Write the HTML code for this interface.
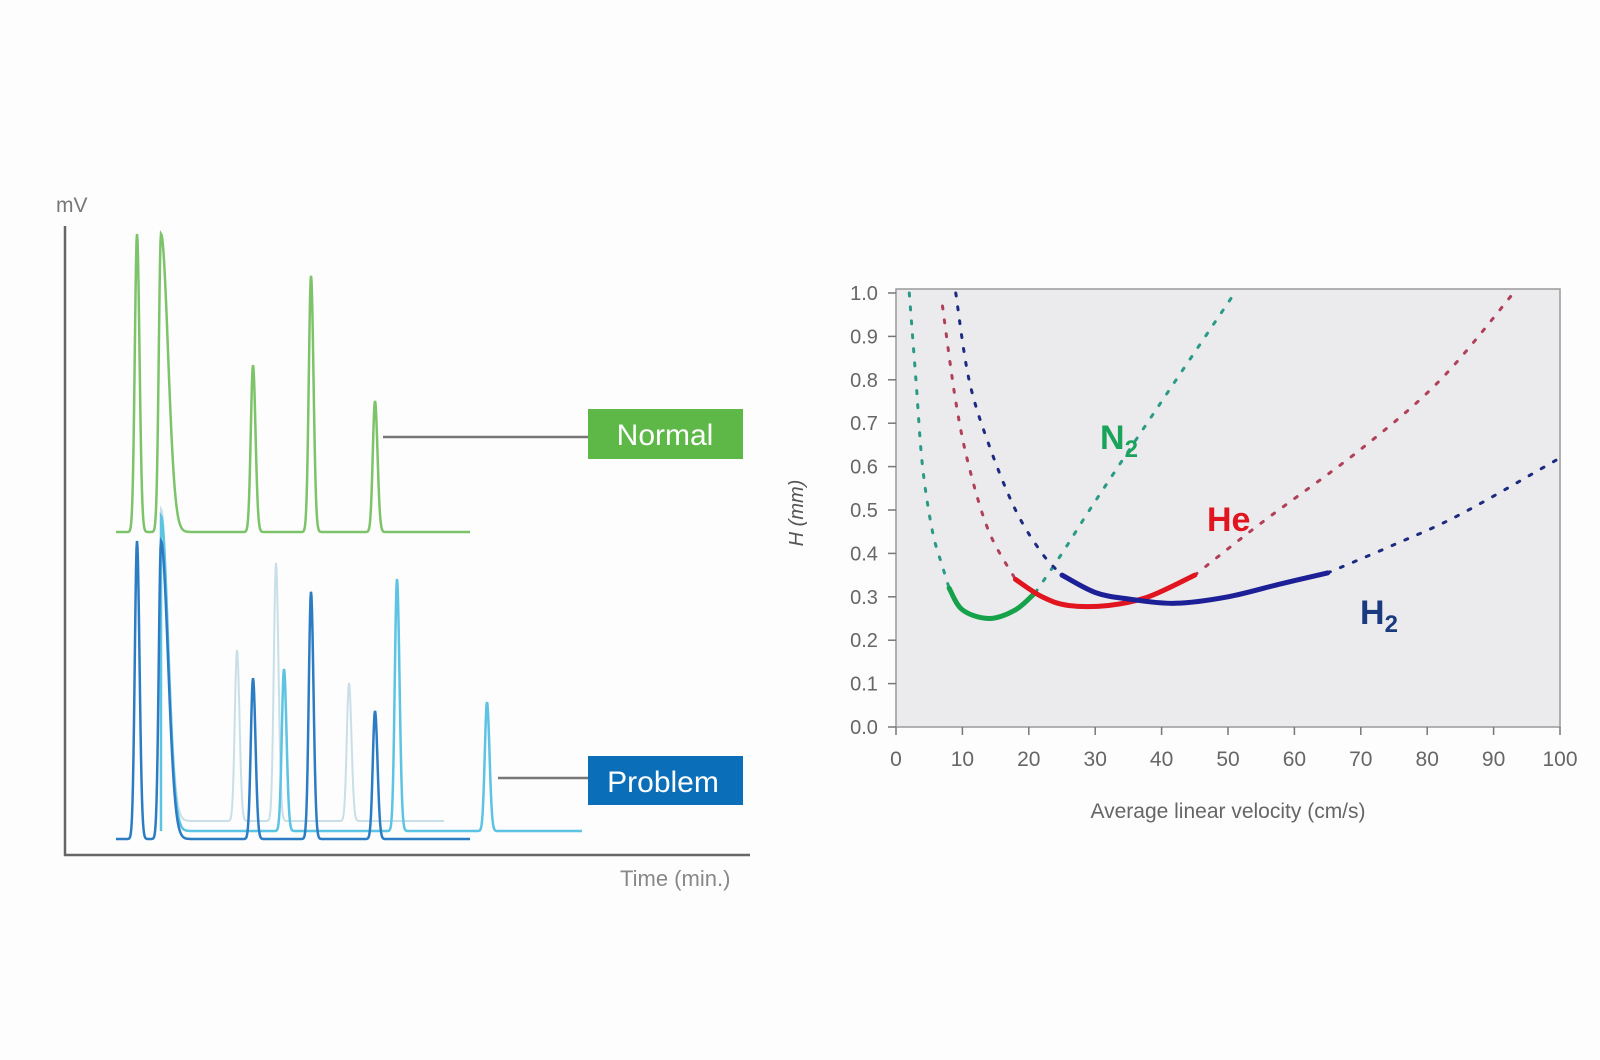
<!DOCTYPE html>
<html><head><meta charset="utf-8"><style>
html,body{margin:0;padding:0;background:#fdfdfd;}
svg{display:block;font-family:"Liberation Sans",sans-serif;}
</style></head><body>
<svg width="1600" height="1060" viewBox="0 0 1600 1060">
<rect width="1600" height="1060" fill="#fdfdfd"/>
<g id="left">
  <line x1="65" y1="226" x2="65" y2="856" stroke="#666" stroke-width="2.5"/>
  <line x1="64" y1="855" x2="750" y2="855" stroke="#666" stroke-width="2.5"/>
  <text x="56" y="212" font-size="21" fill="#777">mV</text>
  <text x="620" y="886" font-size="22" fill="#888">Time (min.)</text>
  <g id="traces"></g>
  <line x1="383" y1="437" x2="588" y2="437" stroke="#777" stroke-width="2.5"/>
  <rect x="588" y="409" width="155" height="50" fill="#5db847"/>
  <text x="665" y="445" font-size="30" fill="#fff" text-anchor="middle">Normal</text>
  <line x1="498" y1="778" x2="588" y2="778" stroke="#777" stroke-width="2.5"/>
  <rect x="588" y="756" width="155" height="49" fill="#0b6eb8"/>
  <text x="663" y="792" font-size="30" fill="#fff" text-anchor="middle">Problem</text>
</g>
<g id="right">
  <rect x="896" y="289" width="664" height="438" fill="#ebebed" stroke="#999" stroke-width="1.5"/>
  <g id="axes"></g>
  <g id="curves"></g>
  <text x="0" y="0" font-size="20" font-style="italic" fill="#555" text-anchor="middle" transform="translate(803,513) rotate(-90)">H (mm)</text>
  <text x="1228" y="818" font-size="21" fill="#666" text-anchor="middle">Average linear velocity (cm/s)</text>
  <text x="1100" y="449" font-size="34" font-weight="bold" fill="#1aa35a">N<tspan font-size="24" dy="8">2</tspan></text>
  <text x="1207" y="531" font-size="34" font-weight="bold" fill="#e0151f">He</text>
  <text x="1360" y="624" font-size="34" font-weight="bold" fill="#1a3a80">H<tspan font-size="24" dy="8">2</tspan></text>
</g>
</svg>
<script>
// Chromatogram data (peak positions px-time units, heights in relative mV)
const normalPeaks = [[137,1.0],[161,1.0],[253,0.56],[311,0.86],[375,0.44]];
const darkPeaks = [[137,1.0],[161,1.0],[253,0.54],[311,0.83],[375,0.43]];
const cyanPeaks = [[161,1.05],[284,0.54],[397,0.84],[487,0.43]];
const lightPeaks = [[161,1.04],[237,0.57],[276,0.86],[349,0.46]];
// H vs velocity curves [velocity, H]
const n2Left=[[2,1.0],[3,0.8],[4,0.6],[5.5,0.45],[7,0.37],[8,0.32]];
const n2Solid=[[8,0.32],[10,0.27],[14,0.25],[18,0.27],[21,0.31]];
const n2Right=[[21,0.31],[25,0.4],[30,0.52],[40,0.75],[51,1.0]];
const heLeft=[[7,0.97],[9,0.75],[11,0.6],[14,0.45],[18,0.34]];
const heSolid=[[18,0.34],[22,0.3],[26,0.28],[32,0.28],[38,0.3],[45,0.35]];
const heRight=[[45,0.35],[55,0.47],[70,0.64],[82,0.8],[93,1.0]];
const h2Left=[[9,1.0],[11,0.8],[14,0.65],[18,0.5],[22,0.4],[25,0.35]];
const h2Solid=[[25,0.35],[30,0.31],[35,0.295],[42,0.285],[50,0.3],[58,0.33],[65,0.355]];
const h2Right=[[65,0.355],[75,0.42],[85,0.49],[100,0.62]];
const xTicks=[0,10,20,30,40,50,60,70,80,90,100];
const yTicks=[0,0.1,0.2,0.3,0.4,0.5,0.6,0.7,0.8,0.9,1.0];

const NS="http://www.w3.org/2000/svg";
function mk(tag,attrs,parent){const e=document.createElementNS(NS,tag);for(const k in attrs)e.setAttribute(k,attrs[k]);parent.appendChild(e);return e;}

const traces=document.getElementById('traces');
function trace(peaks,base,x0,x1,amp,color,w,name){
  let d=`M${x0},${base}`;
  for(let x=x0;x<=x1;x+=0.5){
    let y=0;
    for(const [p,h] of peaks){
      const dx=x-p;
      const tail=(p<170&&p>150)?7:2.5;
      const s=dx<0?2.2:tail;
      y+=h*Math.exp(-(dx*dx)/(2*s*s));
    }
    d+=`L${x},${(base-y*amp).toFixed(1)}`;
  }
  const el=mk('path',{d:d,fill:'none',stroke:color,'stroke-width':w},traces);
  
  
}
trace(lightPeaks,821,161,444,300,'#c9dfe8',2,'problem-trace-light');
trace(cyanPeaks,831,161,582,300,'#5cc3e3',2.5,'problem-trace-cyan');
trace(darkPeaks,839,116,470,298,'#2c7cc4',2.5,'problem-trace-dark');
trace(normalPeaks,532,116,470,298,'#7cc36a',2.5,'normal-trace');

const X=v=>896+v*6.64, Y=v=>727-v*434;
const axes=document.getElementById('axes');
for(const t of xTicks){
  const l=mk('line',{x1:X(t),y1:727,x2:X(t),y2:735,stroke:'#777','stroke-width':1.5},axes);
  
  
  const tx=mk('text',{x:X(t),y:766,'font-size':21,fill:'#666','text-anchor':'middle'},axes);
  tx.textContent=t;
  
  
}
for(const t of yTicks){
  const l=mk('line',{x1:888,y1:Y(t),x2:896,y2:Y(t),stroke:'#777','stroke-width':1.5},axes);
  
  
  const tx=mk('text',{x:864,y:Y(t)+7,'font-size':20,fill:'#666','text-anchor':'middle'},axes);
  tx.textContent=t.toFixed(1);
  
  
}
const curves=document.getElementById('curves');
function smooth(pts){
  const p=pts.map(([a,b])=>[X(a),Y(b)]);
  let d=`M${p[0][0]},${p[0][1]}`;
  for(let i=0;i<p.length-1;i++){
    const p0=p[i-1]||p[i],p1=p[i],p2=p[i+1],p3=p[i+2]||p2;
    const c1=[p1[0]+(p2[0]-p0[0])/6,p1[1]+(p2[1]-p0[1])/6];
    const c2=[p2[0]-(p3[0]-p1[0])/6,p2[1]-(p3[1]-p1[1])/6];
    d+=`C${c1[0]},${c1[1]} ${c2[0]},${c2[1]} ${p2[0]},${p2[1]}`;
  }
  return d;
}
function curve(pts,color,dotted,name){
  const a={d:smooth(pts),fill:'none',stroke:color,'stroke-width':dotted?3:5,'stroke-linecap':'round'};
  if(dotted)a['stroke-dasharray']='3 11';
  const el=mk('path',a,curves);
  
  
}
curve(n2Left,'#2a9a86',true,'n2-dotted-left');
curve(n2Right,'#2a9a86',true,'n2-dotted-right');
curve(heLeft,'#b0405a',true,'he-dotted-left');
curve(heRight,'#b0405a',true,'he-dotted-right');
curve(h2Left,'#1c2a80',true,'h2-dotted-left');
curve(h2Right,'#1c2a80',true,'h2-dotted-right');
curve(n2Solid,'#16a24a',false,'n2-optimal');
curve(heSolid,'#e0151f',false,'he-optimal');
curve(h2Solid,'#1c1f96',false,'h2-optimal');
</script>
</body></html>
